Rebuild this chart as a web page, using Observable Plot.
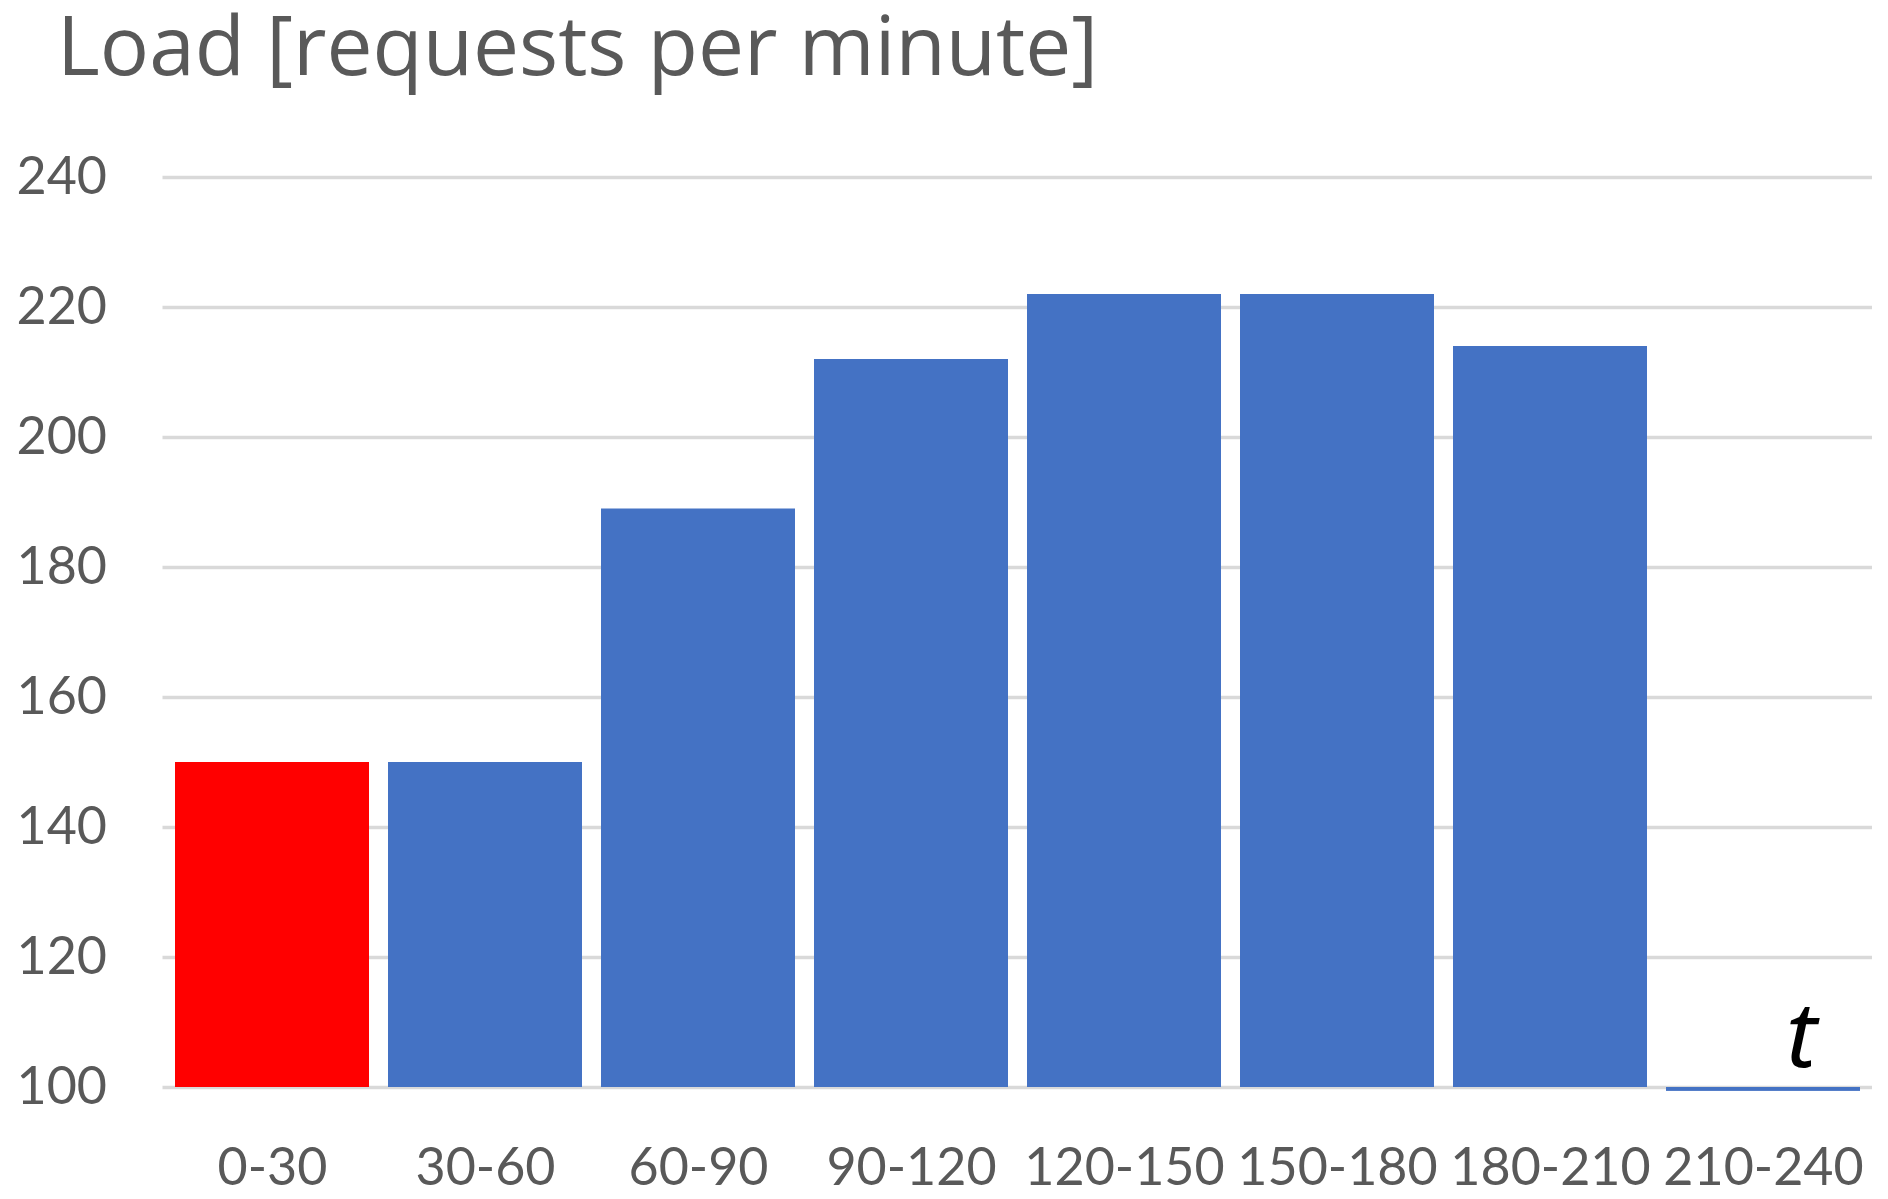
<!DOCTYPE html>
<html><head><meta charset="utf-8">
<script src="https://cdn.jsdelivr.net/npm/d3@7"></script>
<script src="https://cdn.jsdelivr.net/npm/@observablehq/plot@0.6"></script>
<style>
html,body{margin:0;padding:0;background:#fff;width:1888px;height:1199px;overflow:hidden;}
#title{position:absolute;left:57px;top:0px;font-family:"Open Sans",Lato,sans-serif;font-size:82px;line-height:1.05;color:#595959;white-space:nowrap;}
#chart{position:absolute;left:0;top:120px;}
</style></head><body>
<div id="title">Load [requests per minute]</div>
<div id="chart"></div>
<script>
const categories = ["0-30","30-60","60-90","90-120","120-150","150-180","180-210","210-240"];
const loads = [150, 150, 189, 212, 222, 222, 214, 99.4];
const yTicks = [100, 120, 140, 160, 180, 200, 220, 240];
const highlighted = "0-30";
const annotations = [{category: "210-240", label: "t"}];

const data = categories.map((c, i) => ({category: c, load: loads[i]}));

const chart = Plot.plot({
  width: 1888, height: 1079,
  marginTop: 57, marginBottom: 112, marginLeft: 162.5, marginRight: 16,
  style: {fontFamily: "Lato, 'Open Sans', sans-serif", fontSize: "52px", color: "#595959", background: "white"},
  x: {domain: categories, paddingInner: 0.09, paddingOuter: 0.045, label: null},
  y: {domain: [100, 240], label: null},
  color: {type: "identity"},
  marks: [
    Plot.ruleY(yTicks, {stroke: "#d9d9d9", strokeWidth: 3.5}),
    Plot.barY(data, {x: "category", y1: 100, y2: "load", fill: d => d.category === highlighted ? "#ff0000" : "#4472c4"}),
    Plot.axisY(yTicks, {tickSize: 0, tickPadding: 56, label: null, fill: "#595959", fontSize: 52}),
    Plot.axisX({tickSize: 0, tickPadding: 61, label: null, fill: "#595959", fontSize: 52}),
    Plot.text(annotations, {x: "category", y: 100, text: "label", dx: 38, dy: -21, lineAnchor: "bottom", textAnchor: "middle", fontStyle: "italic", fontSize: 92, fontWeight: 400, fill: "black", fontFamily: "'Noto Sans', sans-serif"})
  ]
});
document.getElementById("chart").appendChild(chart);
</script>
</body></html>
